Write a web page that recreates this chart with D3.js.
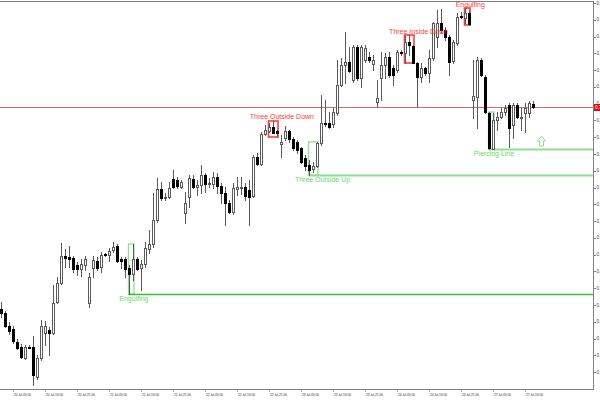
<!DOCTYPE html>
<html><head><meta charset="utf-8">
<script src="https://cdn.jsdelivr.net/npm/d3@7/dist/d3.min.js"></script>
<style>html,body{margin:0;padding:0;background:#fff;overflow:hidden}</style>
</head><body>
<svg id="c" width="600" height="400"></svg>
<script>
// Hourly bars, bar 0 = 20 Jul 02:00 (weekend gap after bar 117)
const openP = [0.69176,0.69152,0.69075,0.69057,0.68980,0.68950,0.68884,0.68950,0.68950,0.68771,
0.68884,0.69033,0.69051,0.69033,0.69218,0.69331,0.69492,0.69486,0.69480,0.69438,
0.69415,0.69438,0.69212,0.69421,0.69462,0.69427,0.69504,0.69498,0.69528,0.69552,
0.69474,0.69474,0.69421,0.69385,0.69474,0.69421,0.69444,0.69534,0.69564,0.69707,
0.69891,0.69838,0.69844,0.69951,0.69945,0.69903,0.69748,0.69844,0.69951,0.69903,
0.69915,0.69975,0.69921,0.69921,0.69963,0.69909,0.69868,0.69808,0.69754,0.69891,
0.69897,0.69903,0.69885,0.69850,0.70082,0.70040,0.70219,0.70237,0.70261,0.70237,
0.70160,0.70195,0.70237,0.70189,0.70172,0.70136,0.70076,0.70034,0.70011,0.70029,
0.70166,0.70285,0.70285,0.70279,0.70344,0.70511,0.70630,0.70648,0.70541,0.70738,
0.70553,0.70660,0.70678,0.70636,0.70410,0.70553,0.70630,0.70678,0.70613,0.70601,
0.70708,0.70702,0.70768,0.70744,0.70642,0.70559,0.70613,0.70583,0.70672,0.70797,
0.70881,0.70839,0.70797,0.70654,0.70762,0.70923,0.70911,0.70940,0.70422,0.70440,
0.70660,0.70559,0.70344,0.70130,0.70303,0.70321,0.70350,0.70392,0.70273,0.70392,
0.70315,0.70344,0.70344,0.70398];
const highP = [0.69218,0.69164,0.69099,0.69075,0.68997,0.68968,0.68962,0.68962,0.69015,0.68902,
0.69111,0.69105,0.69069,0.69319,0.69367,0.69570,0.69534,0.69552,0.69492,0.69456,
0.69474,0.69492,0.69391,0.69492,0.69486,0.69516,0.69510,0.69540,0.69576,0.69564,
0.69486,0.69486,0.69438,0.69564,0.69486,0.69468,0.69576,0.69647,0.69868,0.69957,
0.69933,0.69868,0.69933,0.70005,0.69963,0.69945,0.69874,0.69975,0.69975,0.69945,
0.70034,0.69987,0.69957,0.69993,0.69987,0.69927,0.69903,0.69826,0.69927,0.69963,
0.69963,0.69927,0.69945,0.70094,0.70106,0.70231,0.70273,0.70285,0.70297,0.70243,
0.70213,0.70267,0.70243,0.70201,0.70183,0.70142,0.70094,0.70064,0.70052,0.70172,
0.70452,0.70422,0.70350,0.70374,0.70660,0.70672,0.70827,0.70738,0.70750,0.70750,
0.70750,0.70750,0.70708,0.70690,0.70541,0.70708,0.70702,0.70708,0.70630,0.70720,
0.70720,0.70803,0.70809,0.70750,0.70648,0.70642,0.70619,0.70720,0.70887,0.70958,
0.70964,0.70857,0.70809,0.70779,0.70940,0.70946,0.70970,0.70958,0.70660,0.70678,
0.70672,0.70571,0.70350,0.70344,0.70350,0.70374,0.70392,0.70404,0.70404,0.70404,
0.70374,0.70404,0.70416,0.70416];
const lowP = [0.69129,0.69069,0.69027,0.68974,0.68938,0.68884,0.68878,0.68944,0.68723,0.68759,
0.68872,0.68962,0.68902,0.69027,0.69212,0.69325,0.69427,0.69427,0.69397,0.69379,
0.69373,0.69409,0.69188,0.69367,0.69409,0.69397,0.69492,0.69462,0.69516,0.69456,
0.69421,0.69367,0.69266,0.69349,0.69409,0.69289,0.69427,0.69510,0.69546,0.69695,
0.69826,0.69826,0.69838,0.69897,0.69897,0.69897,0.69689,0.69784,0.69897,0.69856,
0.69868,0.69874,0.69903,0.69897,0.69868,0.69808,0.69677,0.69748,0.69742,0.69856,
0.69862,0.69826,0.69677,0.69844,0.70034,0.70034,0.70213,0.70231,0.70225,0.70201,
0.70082,0.70183,0.70172,0.70124,0.70106,0.70046,0.70005,0.69975,0.69993,0.70023,
0.70154,0.70267,0.70255,0.70261,0.70332,0.70505,0.70523,0.70589,0.70529,0.70541,
0.70499,0.70648,0.70648,0.70601,0.70380,0.70422,0.70553,0.70559,0.70511,0.70589,
0.70690,0.70642,0.70690,0.70642,0.70380,0.70529,0.70571,0.70529,0.70660,0.70738,
0.70821,0.70779,0.70571,0.70642,0.70750,0.70911,0.70881,0.70869,0.70315,0.70255,
0.70565,0.70344,0.70130,0.70130,0.70243,0.70315,0.70332,0.70142,0.70195,0.70315,
0.70243,0.70231,0.70321,0.70374];
const closeP = [0.69152,0.69075,0.69045,0.68986,0.68944,0.68890,0.68950,0.68944,0.68783,0.68884,
0.69075,0.69075,0.69033,0.69212,0.69331,0.69492,0.69480,0.69474,0.69415,0.69415,
0.69444,0.69474,0.69367,0.69468,0.69421,0.69498,0.69498,0.69522,0.69546,0.69462,
0.69462,0.69415,0.69385,0.69474,0.69415,0.69444,0.69540,0.69564,0.69707,0.69891,
0.69838,0.69844,0.69897,0.69903,0.69909,0.69933,0.69808,0.69957,0.69903,0.69915,
0.69975,0.69921,0.69927,0.69963,0.69909,0.69868,0.69808,0.69754,0.69897,0.69903,
0.69903,0.69850,0.69844,0.70082,0.70040,0.70219,0.70243,0.70261,0.70225,0.70225,
0.70172,0.70237,0.70189,0.70136,0.70124,0.70052,0.70029,0.70005,0.70029,0.70166,
0.70285,0.70279,0.70261,0.70350,0.70511,0.70630,0.70648,0.70595,0.70738,0.70553,
0.70738,0.70732,0.70660,0.70660,0.70434,0.70630,0.70678,0.70571,0.70571,0.70708,
0.70702,0.70768,0.70750,0.70642,0.70559,0.70613,0.70583,0.70672,0.70881,0.70881,
0.70839,0.70797,0.70648,0.70768,0.70917,0.70917,0.70940,0.70875,0.70446,0.70660,
0.70571,0.70350,0.70136,0.70303,0.70321,0.70350,0.70374,0.70255,0.70392,0.70321,
0.70321,0.70374,0.70404,0.70380];

const timeBars = [-5,3,11,19,27,35,43,51,59,67,75,83,91,99,107,115,123,131];
const timeTexts = ["20 Jul 2026","20 Jul 05:00","20 Jul 13:00","20 Jul 21:00","21 Jul 05:00","21 Jul 13:00",
"21 Jul 21:00","22 Jul 05:00","22 Jul 13:00","22 Jul 21:00","23 Jul 05:00","23 Jul 13:00","23 Jul 21:00",
"24 Jul 05:00","24 Jul 13:00","24 Jul 21:00","27 Jul 05:00","27 Jul 13:00"];
const priceTicks = d3.range(0, 23).map(k => +(0.710 - k * 0.001).toFixed(3));

const patternNames = ["Engulfing","Three Outside Down","Three Outside Up","Three Inside Down","Engulfing","Piercing Line"];
const patternFrom  = [32, 67, 77, 101, 116, 122];
const patternTo    = [33, 69, 79, 103, 117, 123];
const patternBull  = [true, false, true, false, false, true];
const patternLabelBar = [33.1, 70.1, 80.25, 104.25, 117.2, 123.1];
const signalBars = [135];
const signalPrices = [0.70207];

const svg = d3.select("#c");
const plotR = 593, plotB = 389;
const x = d3.scaleLinear().domain([0, 133]).range([1.5, 533.5]);
const y = d3.scaleLinear().domain([0.710, 0.690]).range([3, 3 + 2000 / 5.96]);
const ry = v => Math.round(y(v));

const n = openP.length;
const bars = d3.range(n).map(i => ({i, o: openP[i], h: highP[i], l: lowP[i], c: closeP[i]}));

const gBack = svg.append("g");
const pats = patternNames.map((name, k) => {
  const a = patternFrom[k], b = patternTo[k];
  return {name, a, b, bull: patternBull[k], lb: patternLabelBar[k],
    hi: d3.max(highP.slice(a, b + 1)), lo: d3.min(lowP.slice(a, b + 1))};
});
const RED = "#ff3b3b", LG = "#8fdf8f", G = "#36c436", LGT = "#6ad86a";

gBack.selectAll("rect.box").data(pats).join("rect")
  .attr("x", d => x(d.a) - 1).attr("width", d => x(d.b) - x(d.a) + 1.5)
  .attr("y", d => ry(d.hi)).attr("height", d => ry(d.lo) - ry(d.hi))
  .attr("fill", "none")
  .attr("stroke", d => d.bull ? LG : RED)
  .attr("stroke-width", d => d.bull ? 1.3 : 1.6);

gBack.selectAll("line.lvl").data(pats.filter(d => d.bull)).join("line")
  .attr("x1", d => x(d.a) - 1).attr("x2", plotR)
  .attr("y1", d => ry(d.lo) + 0.5).attr("y2", d => ry(d.lo) + 0.5)
  .attr("stroke", d => d.a === 32 ? G : LG)
  .attr("stroke-width", d => d.a === 32 ? 1.5 : 2);

const bid = closeP[n - 1];
gBack.append("line").attr("x1", 0).attr("x2", plotR)
  .attr("y1", ry(bid) + 0.5).attr("y2", ry(bid) + 0.5)
  .attr("stroke", "#d86a6a").attr("stroke-width", 1);

const gC = svg.append("g");
const WICK = "#5a5a5a";
gC.selectAll("rect.w").data(bars).join("rect")
  .attr("x", d => x(d.i) - 0.5).attr("width", 1)
  .attr("y", d => ry(d.h)).attr("height", d => ry(d.l) - ry(d.h) + 1)
  .attr("fill", WICK);
gC.selectAll("rect.b").data(bars).join("rect")
  .each(function(d) {
    const top = ry(Math.max(d.o, d.c)), bot = ry(Math.min(d.o, d.c));
    const s = d3.select(this);
    if (d.c >= d.o && bot > top) {
      s.attr("x", x(d.i) - 1).attr("width", 2)
       .attr("y", top + 0.5).attr("height", bot - top)
       .attr("fill", "#fff").attr("stroke", WICK).attr("stroke-width", 1);
    } else {
      s.attr("x", x(d.i) - 1.5).attr("width", 3)
       .attr("y", top).attr("height", bot - top + 1)
       .attr("fill", "#000");
    }
  });

svg.selectAll("text.pl").data(pats).join("text")
  .attr("x", d => x(d.lb))
  .attr("y", d => d.bull ? y(d.lo) + 7 : y(d.hi) - 1.5)
  .attr("text-anchor", "middle")
  .attr("font-family", "Liberation Sans, Arial, sans-serif")
  .attr("font-size", 7)
  .attr("fill", d => d.bull ? LGT : RED)
  .text(d => d.name);

signalBars.forEach((b, k) => {
  const cx = x(b), ty = y(signalPrices[k]);
  const pts = [[cx, ty], [cx + 4, ty + 5], [cx + 2, ty + 5], [cx + 2, ty + 10], [cx - 2, ty + 10], [cx - 2, ty + 5], [cx - 4, ty + 5]];
  svg.append("polygon").attr("points", pts.map(p => p.join(",")).join(" "))
    .attr("fill", "#fff").attr("stroke", LG).attr("stroke-width", 1);
});

const AX = "#808080";
svg.append("line").attr("x1", 0).attr("x2", plotR + 0.5).attr("y1", 1.5).attr("y2", 1.5).attr("stroke", AX).attr("stroke-width", 1.2);
svg.append("line").attr("x1", 0).attr("x2", plotR + 0.5).attr("y1", plotB + 0.5).attr("y2", plotB + 0.5).attr("stroke", AX);
svg.append("line").attr("x1", plotR + 0.5).attr("x2", plotR + 0.5).attr("y1", 1).attr("y2", plotB + 1).attr("stroke", AX);

const gY = svg.append("g");
gY.selectAll("line").data(priceTicks).join("line")
  .attr("x1", plotR).attr("x2", plotR + 3)
  .attr("y1", d => Math.round(y(d)) + 0.5).attr("y2", d => Math.round(y(d)) + 0.5)
  .attr("stroke", AX);
gY.selectAll("text").data(priceTicks).join("text")
  .attr("x", plotR + 3.5).attr("y", d => y(d) + 1.6)
  .attr("font-family", "Liberation Sans, Arial, sans-serif").attr("font-size", 4.6)
  .attr("fill", "#444").text(d => d3.format(".5f")(d));

svg.append("rect").attr("x", plotR + 1).attr("y", ry(bid) - 3).attr("width", 8).attr("height", 7).attr("fill", "#cc1111");
svg.append("text").attr("x", plotR + 2).attr("y", ry(bid) + 2.2)
  .attr("font-family", "Liberation Sans, Arial, sans-serif").attr("font-size", 4.6)
  .attr("fill", "#fff").text(d3.format(".5f")(bid));

const gX = svg.append("g");
const tl = timeBars.map((b, k) => ({b, t: timeTexts[k]}));
gX.selectAll("line").data(tl).join("line")
  .attr("x1", d => x(d.b)).attr("x2", d => x(d.b))
  .attr("y1", plotB + 1).attr("y2", plotB + 3).attr("stroke", AX).attr("stroke-width", 0.6);
gX.selectAll("text").data(tl).join("text")
  .attr("x", d => x(d.b) + 0.5).attr("y", 395.5)
  .attr("font-family", "Liberation Sans, Arial, sans-serif").attr("font-size", 3.1)
  .attr("fill", "#222").text(d => d.t);
</script>
</body></html>
